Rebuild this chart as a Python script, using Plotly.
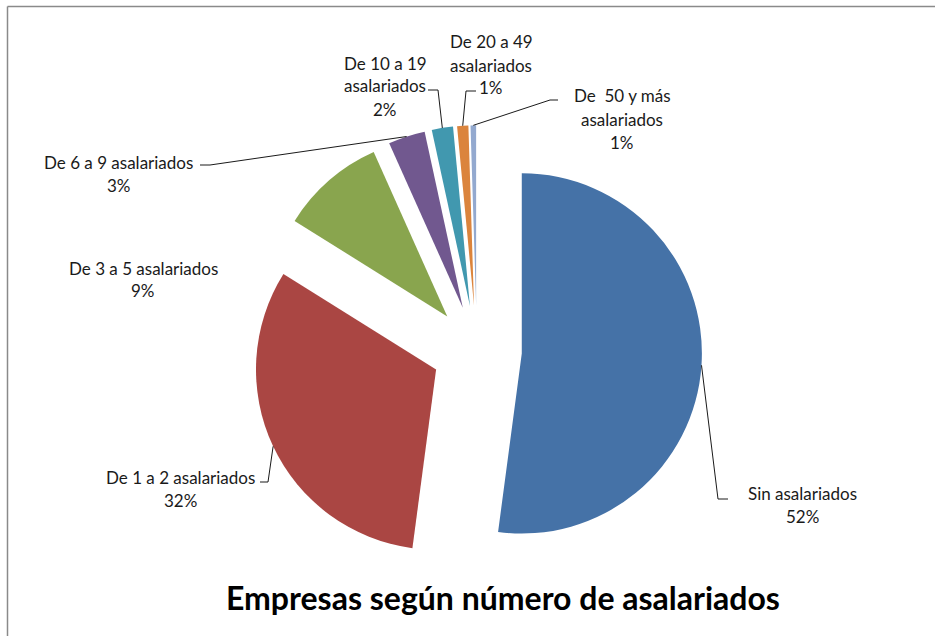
import math
import plotly.graph_objects as go

# ---------------- data ----------------
categories = [
    "Sin asalariados",
    "De 1 a 2 asalariados",
    "De 3 a 5 asalariados",
    "De 6 a 9 asalariados",
    "De 10 a 19 asalariados",
    "De 20 a 49 asalariados",
    "De  50 y más asalariados",
]
values = [52.1, 31.8, 9.4, 3.3, 1.9, 1.0, 0.5]
colors = ["#4572A7", "#AA4643", "#89A54E", "#71588F", "#4198AF", "#DB843D", "#93A9CF"]
title_text = "Empresas según número de asalariados"

# ---------------- styling / layout constants ----------------
W, H = 935, 636
PULL = 0.25
DOM_X = [0.19, 0.83]
DOM_Y = [0.095, 0.803]
LABEL_FONT = dict(family="Lato, Calibri, sans-serif", size=17, color="#1a1a1a")
LINE_GAP = 23
# label placement: (center x px, first-line y px, break before "asalariados")
label_pos = [
    (802, 493, False),
    (180, 477, False),
    (143, 268, False),
    (119, 162, False),
    (385, 63, True),
    (491, 42, True),
    (622, 96, True),
]
# leader lines: (label-side x, y, elbow x) ; None -> no leader
leaders = [
    (728, 499, 718),
    (260, 482, 268),
    None,
    (200, 165, 210),
    (428, 90, 438),
    (476, 91, 466),
    (558, 100, 550),
]

total = sum(values)
pct_text = [f"{math.floor(v / total * 100 + 0.5 + 1e-9)}%" for v in values]

fig = go.Figure(go.Pie(
    labels=categories,
    values=values,
    sort=False,
    direction="clockwise",
    rotation=0,
    pull=[PULL] * len(values),
    marker=dict(colors=colors, line=dict(width=0)),
    textinfo="none",
    hovertemplate="%{label}: %{percent}<extra></extra>",
    domain=dict(x=DOM_X, y=DOM_Y),
    showlegend=False,
))

# pie geometry (same formulas as plotly.js) to attach leader lines
box_w = W * (DOM_X[1] - DOM_X[0])
box_h = H * (DOM_Y[1] - DOM_Y[0])
r = min(box_w, box_h) / 2 / (1 + PULL)
cx = W * (DOM_X[0] + DOM_X[1]) / 2
cy = H * (1 - DOM_Y[0]) - box_h / 2


def px2paper(x, y):
    return x / W, 1 - y / H


annotations = []
shapes = []
cum = 0.0
for i, v in enumerate(values):
    a0 = cum / total * 2 * math.pi
    cum += v
    a1 = cum / total * 2 * math.pi
    mid = (a0 + a1) / 2
    sx = cx + PULL * r * math.sin(mid)
    sy = cy - PULL * r * math.cos(mid)
    ex = sx + r * math.sin(mid)
    ey = sy - r * math.cos(mid)

    lx, ly, brk = label_pos[i]
    name = categories[i]
    if brk:
        head = name.replace(" asalariados", "")
        lines = [head, "asalariados", pct_text[i]]
    else:
        lines = [name, pct_text[i]]
    for k, t in enumerate(lines):
        px_, py_ = px2paper(lx, ly + k * LINE_GAP)
        annotations.append(dict(
            x=px_, y=py_, xref="paper", yref="paper", text=t, showarrow=False,
            xanchor="center", yanchor="middle", font=LABEL_FONT,
        ))

    ld = leaders[i]
    if ld is not None:
        x0, y0, xe = ld
        p0 = px2paper(x0, y0)
        p1 = px2paper(xe, y0)
        p2 = px2paper(ex, ey)
        path = f"M {p0[0]},{p0[1]} L {p1[0]},{p1[1]} L {p2[0]},{p2[1]}"
        shapes.append(dict(type="path", xref="paper", yref="paper", path=path,
                           line=dict(color="#1a1a1a", width=1)))

# title (at the bottom)
tx, ty = px2paper(503, 597)
annotations.append(dict(
    x=tx, y=ty, xref="paper", yref="paper", text=f"<b>{title_text}</b>", showarrow=False,
    xanchor="center", yanchor="middle",
    font=dict(family="Lato, Calibri, sans-serif", size=32, color="#000000"),
))

# chart frame (top and left edges)
fx0, fy0 = px2paper(7.5, 6.5)
shapes.append(dict(type="line", xref="paper", yref="paper", x0=fx0, y0=fy0, x1=1, y1=fy0,
                   line=dict(color="#8a8a8a", width=1.5)))
shapes.append(dict(type="line", xref="paper", yref="paper", x0=fx0, y0=fy0, x1=fx0, y1=0,
                   line=dict(color="#8a8a8a", width=1.5)))

fig.update_layout(
    width=W, height=H,
    margin=dict(l=0, r=0, t=0, b=0),
    paper_bgcolor="white",
    plot_bgcolor="white",
    annotations=annotations,
    shapes=shapes,
)

fig.write_html(
    "out.html",
    config={"displayModeBar": False},
    post_script="document.body.style.margin='0';document.body.style.overflow='hidden';",
)
